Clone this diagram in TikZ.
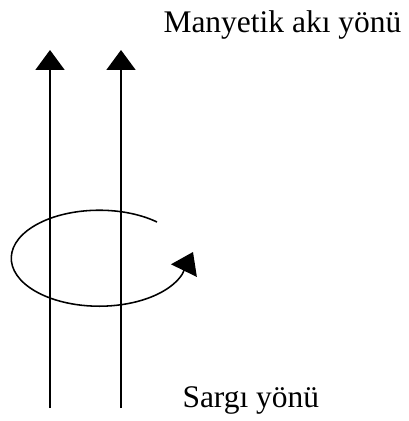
\documentclass[tikz,border=0pt]{standalone}
\usepackage{fontspec}
\setmainfont{Liberation Serif}
\usetikzlibrary{arrows.meta}

\begin{document}
\begin{tikzpicture}[x=0.386pt, y=-0.386pt,
    flux/.style={draw, line width=0.6pt, -{Triangle[width=11.2pt,length=7.7pt]}},
    coil/.style={draw, line width=0.6pt, -{Triangle[width=11pt,length=8pt]}},
    lbl/.style={anchor=base west, inner sep=0pt, font=\fontsize{12.15}{14}\selectfont}]
    \useasboundingbox (0,0) rectangle (409,421);
    % flux lines
    \foreach \x/\n in {50/a,121/b} {
      \coordinate (\n1) at (\x,408);
      \coordinate (\n2) at (\x,50);
      \draw[flux] (\n1) -- (\n2);
    }
    % winding
    \coordinate (c1) at (157,222);
    \coordinate (c2) at (193,252);
    \draw[coil] (c1) arc[start angle=-49, end angle=-340, x radius=88, y radius=48] -- (c2);
    % labels
    \node[lbl] (flux) at (163,32) {Manyetik akı yönü};
    \node[lbl] (wind) at (182,407) {Sargı yönü};
\end{tikzpicture}
\end{document}
